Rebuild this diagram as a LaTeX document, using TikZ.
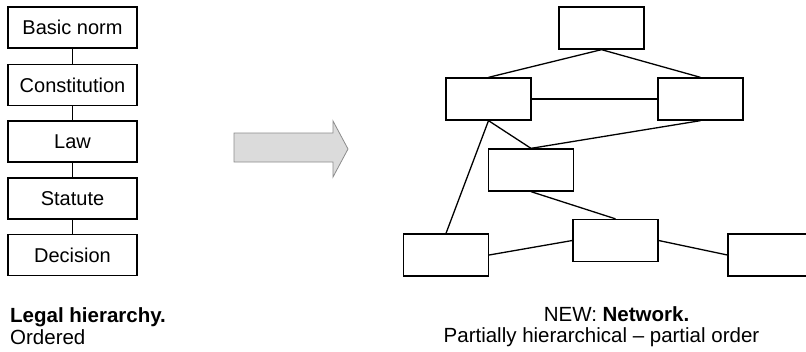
\documentclass[tikz,border=0pt]{standalone}
\usepackage{fontspec}
\setmainfont{Liberation Sans}
\begin{document}
\begin{tikzpicture}[x=1pt,y=-1pt,
  lbox/.style={draw=black,line width=1.3pt,minimum width=129pt,minimum height=41pt,inner sep=0pt,font=\fontsize{20}{23}\selectfont},
  rbox/.style={draw=black,line width=1.3pt,minimum width=85pt,minimum height=42pt,inner sep=0pt},
  conn/.style={line width=1.3pt,draw=black},
  captext/.style={font=\fontsize{20.5}{24}\selectfont,inner sep=0pt}]
\useasboundingbox (0,0) rectangle (806,351);
\clip (0,0) rectangle (806,351);
% left hierarchy
\node[lbox] (b1) at (72.5,27.5) {Basic norm};
\node[lbox] (b2) at (72.5,85) {Constitution};
\node[lbox] (b3) at (72.5,141.5) {Law};
\node[lbox] (b4) at (72.5,198.5) {Statute};
\node[lbox] (b5) at (72.5,255) {Decision};
\draw[conn] (b1) -- (b2);
\draw[conn] (b2) -- (b3);
\draw[conn] (b3) -- (b4);
\draw[conn] (b4) -- (b5);
\node[captext,anchor=base west] (t1) at (10,322) {\textbf{Legal hierarchy.}};
\node[captext,anchor=base west] (t2) at (10,344) {Ordered};
% arrow
\draw[draw=gray!90,fill=gray!28,line width=0.8pt]
  (234,133) -- (333,133) -- (333,121) -- (348,149) -- (333,177) -- (333,162) -- (234,162) -- cycle;
% network
\node[rbox] (top) at (601.5,28) {};
\node[rbox] (ml) at (488.5,99) {};
\node[rbox] (mr) at (700.5,99) {};
\node[rbox] (c) at (531,170) {};
\node[rbox] (bm) at (615.5,240.5) {};
\node[rbox] (bl) at (446,255) {};
\node[rbox] (br) at (770.5,255) {};
\draw[conn] (top.south) -- (ml.north);
\draw[conn] (top.south) -- (mr.north);
\draw[conn] (ml.east) -- (mr.west);
\draw[conn] (ml.south) -- (c.north);
\draw[conn] (mr.south) -- (c.north);
\draw[conn] (ml.south) -- (bl.north);
\draw[conn] (c.south) -- (bm.north);
\draw[conn] (bl.east) -- (bm.west);
\draw[conn] (bm.east) -- (br.west);
\node[captext,anchor=base] (n1) at (616.5,321) {NEW: \textbf{Network.}};
\node[captext,anchor=base] (n2) at (601.5,342) {Partially hierarchical -- partial order};
\end{tikzpicture}
\end{document}
